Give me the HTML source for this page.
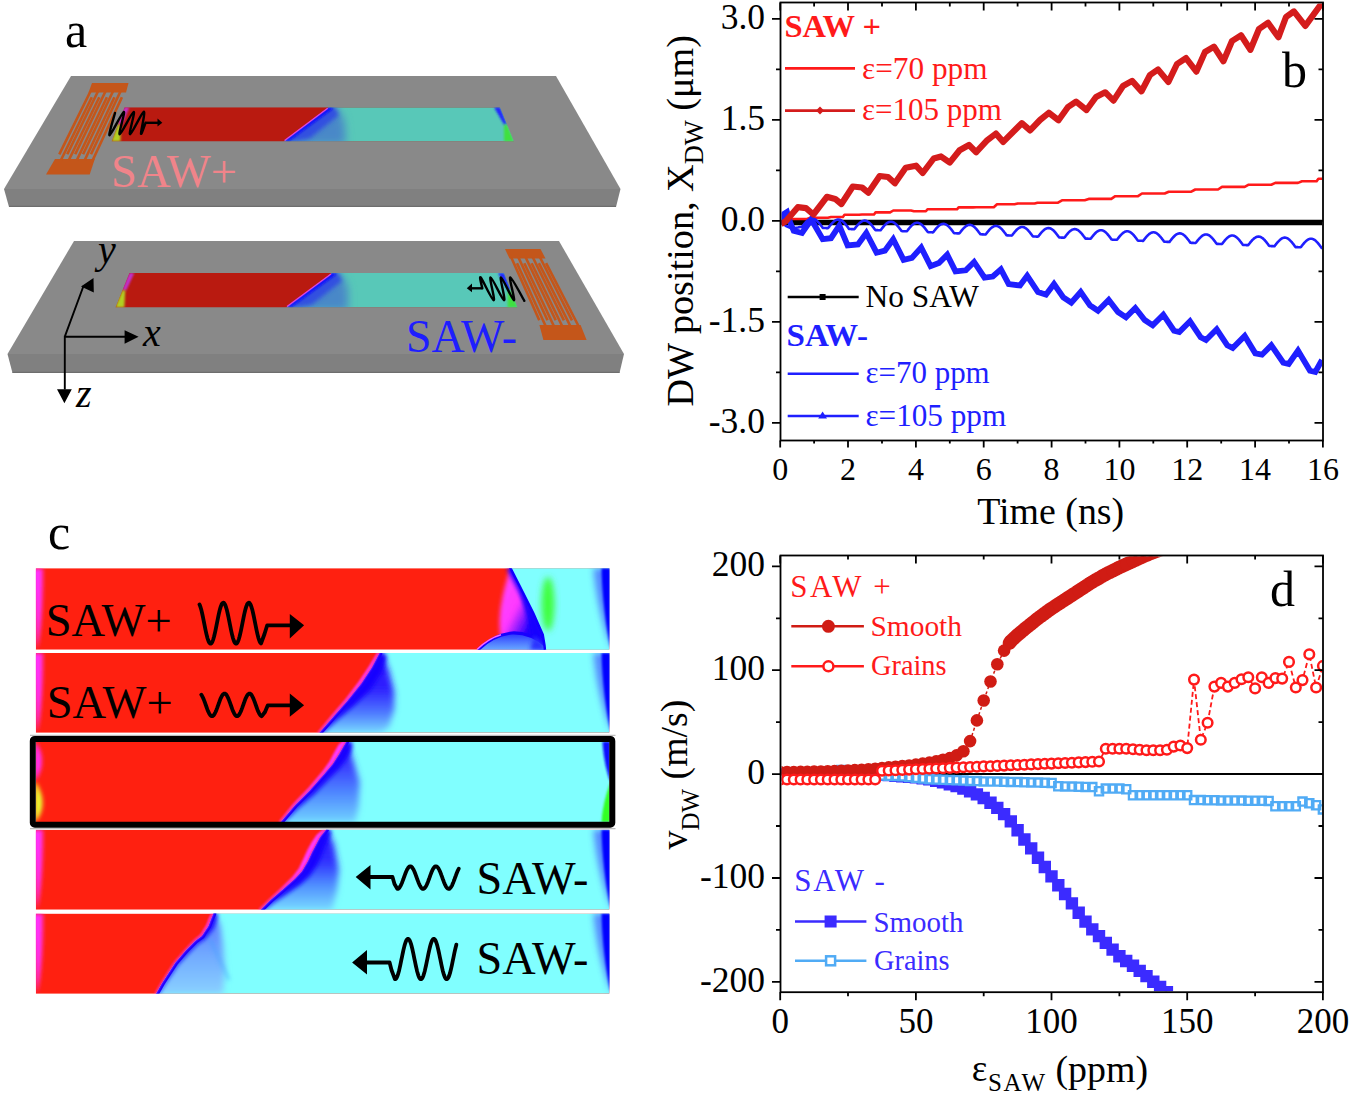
<!DOCTYPE html><html><head><meta charset="utf-8"><style>html,body{margin:0;padding:0;background:#fff;overflow:hidden}svg{display:block}text{font-family:"Liberation Serif", serif}</style></head><body>
<svg width="1350" height="1094" viewBox="0 0 1350 1094">
<rect width="1350" height="1094" fill="#fff"/>
<defs><filter id="bl2" x="-50%" y="-50%" width="200%" height="200%"><feGaussianBlur stdDeviation="2"/></filter><filter id="bl4" x="-50%" y="-50%" width="200%" height="200%"><feGaussianBlur stdDeviation="4"/></filter><filter id="bl6" x="-50%" y="-50%" width="200%" height="200%"><feGaussianBlur stdDeviation="6"/></filter><filter id="bl1" x="-50%" y="-50%" width="200%" height="200%"><feGaussianBlur stdDeviation="1"/></filter><filter id="bl3" x="-50%" y="-50%" width="200%" height="200%"><feGaussianBlur stdDeviation="3"/></filter></defs>
<clipPath id="cs0"><rect x="35.8" y="568.2" width="573.7" height="81.5"/></clipPath>
<clipPath id="cs1"><rect x="35.8" y="653" width="573.7" height="79.8"/></clipPath>
<clipPath id="cs2"><rect x="35.8" y="741.6" width="573.7" height="80.4"/></clipPath>
<clipPath id="cs3"><rect x="35.8" y="829.7" width="573.7" height="80"/></clipPath>
<clipPath id="cs4"><rect x="35.8" y="913.6" width="573.7" height="80.2"/></clipPath>
<g clip-path="url(#cs0)"><rect x="35.8" y="568.2" width="573.7" height="81.5" fill="#ff2010"/><path d="M510 567.2 L520 586.7 L533.3 613.3 L542.7 634.7 L544.5 645.3 L545 650.7 L609.5 650.7 L609.5 567.2 Z" fill="#80ffff"/><ellipse cx="548" cy="604" rx="6.5" ry="27" fill="#40ff40" filter="url(#bl3)"/><clipPath id="ct1"><path d="M510 567.2 L520 586.7 L533.3 613.3 L542.7 634.7 L544.5 645.3 L545 650.7 L470 650.7 L470 567.2 Z"/></clipPath><linearGradient id="gt1" gradientUnits="userSpaceOnUse" x1="505" y1="598" x2="536" y2="614"><stop offset="0" stop-color="#ff40ff"/><stop offset="0.4" stop-color="#ff38ff"/><stop offset="0.75" stop-color="#8018ff"/><stop offset="1" stop-color="#2000ff"/></linearGradient><linearGradient id="gb1" gradientUnits="userSpaceOnUse" x1="0" y1="633" x2="0" y2="649.7"><stop offset="0" stop-color="#2a30ff"/><stop offset="0.5" stop-color="#4a70ff"/><stop offset="1" stop-color="#68a8ff"/></linearGradient><g clip-path="url(#ct1)"><path d="M511 566 C507 578 503 592 501 605 C499 618 499 630 501 640 L548 652 L548 566 Z" fill="url(#gt1)" filter="url(#bl2)"/><path d="M510 567.2 L520 586.7 L533.3 613.3 L542.7 634.7 L544.5 645.3 L545 650.7" fill="none" stroke="#2000ff" stroke-width="7" filter="url(#bl2)"/><path d="M520 586.7 L533.3 613.3 L542.7 634.7 L544.5 645.3 L545 652 L532 640 L528 620 Z" fill="#1800ff" filter="url(#bl2)"/><path d="M476 650.7 C488 640 498 634.5 512 633 C524 632.5 536 637 546 646 L546 650.7 Z" fill="url(#gb1)"/><path d="M478 649.8 C488 640 498 634.5 512 633 C524 632.5 536 637 546 646" fill="none" stroke="#1800ff" stroke-width="3.2"/><path d="M534 636 C540 640 544 644 546 650 L530 650 Z" fill="#2a30ff" filter="url(#bl2)"/></g><path d="M477 649.5 C486 641 493 637 501 634.8" fill="none" stroke="#ff60ff" stroke-width="1.5"/><path d="M510 567.2 L520 586.7 L533.3 613.3 L542.7 634.7 L544.5 645.3 L545 650.7" fill="none" stroke="#1000ff" stroke-width="2.5"/><path d="M611.5 568.2 L593.5 568.2 C596.5 604.9 605.5 633.4 611.5 649.7 Z" fill="#4a6aff" filter="url(#bl3)" opacity="0.8"/><path d="M610.5 568.2 L601.5 568.2 C602.5 604.9 607.5 633.4 610.5 649.7 Z" fill="#0000ff" filter="url(#bl1)"/><path d="M32.8 568.2 L42.8 568.2 C42.8 605 40.8 635 36.8 649.7 Z" fill="#ff30ff" filter="url(#bl2)"/></g>
<g clip-path="url(#cs1)"><rect x="35.8" y="653" width="573.7" height="79.8" fill="#ff2010"/><clipPath id="cr1"><polygon points="318.6,732.8 318.6,733.5 333.4,716.4 347.3,700.8 361.2,683.4 371.6,667.8 379.4,653 380,652 609.5,653 609.5,732.8"/></clipPath><polygon points="318.6,732.8 318.6,733.5 333.4,716.4 347.3,700.8 361.2,683.4 371.6,667.8 379.4,653 380,652 609.5,653 609.5,732.8" fill="#80ffff"/><g clip-path="url(#cr1)"><linearGradient id="gm1" gradientUnits="userSpaceOnUse" x1="0" y1="653" x2="0" y2="732.8"><stop offset="0" stop-color="#2a10ff"/><stop offset="0.45" stop-color="#2f20ff"/><stop offset="0.75" stop-color="#4e78ff"/><stop offset="1" stop-color="#78d8ff"/></linearGradient><polygon points="318.6,733.5 333.4,716.4 347.3,700.8 361.2,683.4 371.6,667.8 379.4,653 380,652 382,652 389,671.3 394.2,692.1 394.2,709.5 389,726.9 380,733.5" fill="url(#gm1)" filter="url(#bl3)"/><polygon points="318.6,733.5 333.4,716.4 347.3,700.8 361.2,683.4 371.6,667.8 379.4,653 380,652 384.3,654.6 386.5,656.8 381,673.5 370.1,689.9 353.4,706 337.2,719.7 320.5,735.1" fill="#1800ff" filter="url(#bl2)"/><polyline points="319.7,734.5 334.5,717.4 348.4,701.8 362.4,684.3 372.9,668.6 380.7,653.7 381.3,652.8" fill="none" stroke="#1800ff" stroke-width="3"/></g><polygon points="318.6,733.5 333.4,716.4 347.3,700.8 361.2,683.4 371.6,667.8 379.4,653 380,652 379.1,651.5 377.6,652.1 369,666.3 358.8,681.6 345.4,699.2 331.9,715.1 317.5,732.5" fill="#ff38ff" filter="url(#bl1)"/><path d="M611.5 653 L593.5 653 C596.5 688.9 605.5 716.8 611.5 732.8 Z" fill="#4a6aff" filter="url(#bl3)" opacity="0.8"/><path d="M610.5 653 L601.5 653 C602.5 688.9 607.5 716.8 610.5 732.8 Z" fill="#0000ff" filter="url(#bl1)"/><path d="M32.8 653 L42.8 653 C42.8 688.9 40.8 716.8 36.8 732.8 Z" fill="#ff30ff" filter="url(#bl2)"/></g>
<g clip-path="url(#cs2)"><rect x="35.8" y="741.6" width="573.7" height="80.4" fill="#ff2010"/><clipPath id="cr2"><polygon points="280.2,822 280.2,822.5 295,805 310,790 325,773 332.6,764 339,754 343,747 346.1,741.7 346.5,740.5 609.5,741.6 609.5,822"/></clipPath><polygon points="280.2,822 280.2,822.5 295,805 310,790 325,773 332.6,764 339,754 343,747 346.1,741.7 346.5,740.5 609.5,741.6 609.5,822" fill="#80ffff"/><g clip-path="url(#cr2)"><linearGradient id="gm2" gradientUnits="userSpaceOnUse" x1="0" y1="741.6" x2="0" y2="822"><stop offset="0" stop-color="#3020ff"/><stop offset="0.3" stop-color="#3a3cff"/><stop offset="0.6" stop-color="#4c80ff"/><stop offset="1" stop-color="#70d0ff"/></linearGradient><polygon points="280.2,822.5 295,805 310,790 325,773 332.6,764 339,754 343,747 346.1,741.7 346.5,740.5 347,740.5 353.3,761 359.6,781.7 358.5,807.6 355,822.5" fill="url(#gm2)" filter="url(#bl3)"/><polygon points="280.2,822.5 295,805 310,790 325,773 332.6,764 339,754 343,747 346.1,741.7 346.5,740.5 351.2,742.1 352.3,745 350.8,751.5 346.7,758.7 339,768.7 330.3,777.6 314.4,794.1 298.3,808 282.1,824.1" fill="#1800ff" filter="url(#bl2)"/><polyline points="281.3,823.5 296.1,806 311.1,791 326.1,774 333.8,764.9 340.3,754.8 344.3,747.7 347.4,742.4 347.9,741" fill="none" stroke="#1800ff" stroke-width="3"/></g><polygon points="280.2,822.5 295,805 310,790 325,773 332.6,764 339,754 343,747 346.1,741.7 346.5,740.5 345.6,740.2 343.5,740.3 338.7,744.5 334.7,751.4 329.4,761.6 322.7,771 308.2,788.3 293.5,803.6 279.1,821.5" fill="#ff38ff" filter="url(#bl1)"/><path d="M610.5 741.6 L602.5 741.6 C603.5 760 607.5 775 610.5 782 Z" fill="#1010ff" filter="url(#bl1)"/><path d="M610.5 822 L601.5 822 C602.5 805 607.5 790 610.5 782 Z" fill="#30ff20" filter="url(#bl1)"/><path d="M34.8 741.6 C44 752 44 770 34.8 781 Z" fill="#ff30ff" filter="url(#bl2)"/><path d="M34.8 781 C45 795 45 812 34.8 822 Z" fill="#e8ff30" filter="url(#bl2)"/></g>
<g clip-path="url(#cs3)"><rect x="35.8" y="829.7" width="573.7" height="80" fill="#ff2010"/><clipPath id="cr3"><polygon points="259.8,909.7 259.8,910.5 270.4,900 282,890 294.8,878.8 302,871 307.9,860.9 312,852 316,844.6 320,837 325.8,829.7 326.5,828.5 609.5,829.7 609.5,909.7"/></clipPath><polygon points="259.8,909.7 259.8,910.5 270.4,900 282,890 294.8,878.8 302,871 307.9,860.9 312,852 316,844.6 320,837 325.8,829.7 326.5,828.5 609.5,829.7 609.5,909.7" fill="#80ffff"/><g clip-path="url(#cr3)"><linearGradient id="gm3" gradientUnits="userSpaceOnUse" x1="0" y1="829.7" x2="0" y2="909.7"><stop offset="0" stop-color="#2a10ff"/><stop offset="0.4" stop-color="#3030ff"/><stop offset="0.7" stop-color="#5090ff"/><stop offset="1" stop-color="#78d8ff"/></linearGradient><polygon points="259.8,910.5 270.4,900 282,890 294.8,878.8 302,871 307.9,860.9 312,852 316,844.6 320,837 325.8,829.7 326.5,828.5 327,828.5 334,845 338.8,870 337,890 332,910.5" fill="url(#gm3)" filter="url(#bl3)"/><polygon points="259.8,910.5 270.4,900 282,890 294.8,878.8 302,871 307.9,860.9 312,852 316,844.6 320,837 325.8,829.7 326.5,828.5 330.8,831 330.6,833.3 326.7,841.4 323.9,848.8 321,856.5 316.7,865.6 309.3,876.3 300.3,884.6 285.9,894.5 273.1,902.9 261.6,912.3" fill="#1800ff" filter="url(#bl2)"/><polyline points="260.9,911.6 271.4,901.1 283,891.1 295.8,879.9 303.2,871.9 309.2,861.6 313.3,852.7 317.3,845.3 321.3,837.8 327,830.6 327.8,829.3" fill="none" stroke="#1800ff" stroke-width="3"/></g><polygon points="259.8,910.5 270.4,900 282,890 294.8,878.8 302,871 307.9,860.9 312,852 316,844.6 320,837 325.8,829.7 326.5,828.5 325.6,828 324.2,828.5 316.7,834.8 311.6,842.2 307.5,849.8 303.5,858.6 298.8,868.6 292.7,876.6 280.7,888.5 269.4,898.9 258.7,909.4" fill="#ff38ff" filter="url(#bl1)"/><path d="M611.5 829.7 L593.5 829.7 C596.5 865.7 605.5 893.7 611.5 909.7 Z" fill="#4a6aff" filter="url(#bl3)" opacity="0.8"/><path d="M610.5 829.7 L601.5 829.7 C602.5 865.7 607.5 893.7 610.5 909.7 Z" fill="#0000ff" filter="url(#bl1)"/><path d="M32.8 829.7 L42.8 829.7 C42.8 865.7 40.8 893.7 36.8 909.7 Z" fill="#ff30ff" filter="url(#bl2)"/></g>
<g clip-path="url(#cs4)"><rect x="35.8" y="913.6" width="573.7" height="80.2" fill="#ff2010"/><clipPath id="cr4"><polygon points="155.5,993.8 155.5,994.5 162,983 169.3,971.7 175,963 185.6,950.5 195,941 201.9,935.8 205,931 208.4,926 211,919 213.3,913.6 213.6,912.5 609.5,913.6 609.5,993.8"/></clipPath><polygon points="155.5,993.8 155.5,994.5 162,983 169.3,971.7 175,963 185.6,950.5 195,941 201.9,935.8 205,931 208.4,926 211,919 213.3,913.6 213.6,912.5 609.5,913.6 609.5,993.8" fill="#80ffff"/><g clip-path="url(#cr4)"><linearGradient id="gm4" gradientUnits="userSpaceOnUse" x1="0" y1="913.6" x2="0" y2="993.8"><stop offset="0" stop-color="#5a70ff"/><stop offset="0.5" stop-color="#70a8ff"/><stop offset="1" stop-color="#8ad0ff"/></linearGradient><polygon points="155.5,994.5 162,983 169.3,971.7 175,963 185.6,950.5 195,941 201.9,935.8 205,931 208.4,926 211,919 213.3,913.6 213.6,912.5 214,912.5 220,925 223,945 225,970 223,994.5" fill="url(#gm4)" filter="url(#bl3)"/><polygon points="155.5,994.5 162,983 169.3,971.7 175,963 185.6,950.5 195,941 201.9,935.8 205,931 208.4,926 211,919 213.3,913.6 213.6,912.5 217,913.4 217.5,915.3 216.1,921 213.3,928.5 209.2,933.8 205.1,939 197.7,944 188.6,953.2 177.8,965.1 172.2,973.6 164.6,984.6 157.7,995.7" fill="#1800ff" filter="url(#bl2)"/><polyline points="156.8,995.2 163.3,983.8 170.6,972.5 176.2,963.9 186.7,951.5 196,942.1 203,936.9 206.3,931.8 209.7,926.7 212.4,919.6 214.7,914.2 215,912.9" fill="none" stroke="#1800ff" stroke-width="3"/></g><polygon points="155.5,994.5 162,983 169.3,971.7 175,963 185.6,950.5 195,941 201.9,935.8 205,931 208.4,926 211,919 213.3,913.6 213.6,912.5 212.4,912.2 211.6,912.9 209,918.2 206.4,925 203.3,929.9 200.6,934.5 194,939.9 184.7,949.7 174,962.3 168.3,971 161,982.4 154.5,993.9" fill="#ff38ff" filter="url(#bl1)"/><path d="M210 939 L229 980" stroke="#40a0ff" stroke-width="3" filter="url(#bl2)" opacity="0.5"/><path d="M611.5 913.6 L593.5 913.6 C596.5 949.7 605.5 977.8 611.5 993.8 Z" fill="#4a6aff" filter="url(#bl3)" opacity="0.8"/><path d="M610.5 913.6 L601.5 913.6 C602.5 949.7 607.5 977.8 610.5 993.8 Z" fill="#0000ff" filter="url(#bl1)"/><path d="M32.8 913.6 L42.8 913.6 C42.8 949.7 40.8 977.8 36.8 993.8 Z" fill="#ff30ff" filter="url(#bl2)"/></g>
<path d="M30 735.4H615.5M30 828.6H615.5" stroke="#bdbdbd" stroke-width="1.2"/>
<rect x="32.8" y="738.9" width="579.5" height="85.9" rx="2" fill="none" stroke="#000" stroke-width="6"/>
<text x="48" y="549" font-size="50">c</text>
<text x="45.7" y="635.7" font-size="47" textLength="126" lengthAdjust="spacingAndGlyphs">SAW+</text>
<text x="46.7" y="717.5" font-size="47" textLength="126" lengthAdjust="spacingAndGlyphs">SAW+</text>
<text x="476.5" y="894" font-size="47" textLength="112" lengthAdjust="spacingAndGlyphs">SAW-</text>
<text x="476.5" y="974" font-size="47" textLength="112" lengthAdjust="spacingAndGlyphs">SAW-</text>
<polyline points="199.5,604.5 200,605.6 200.5,607.1 201,608.7 201.5,610.6 202,612.7 202.5,615 203,617.3 203.5,619.8 204,622.3 204.5,624.8 205,627.3 205.5,629.8 206,632.1 206.5,634.3 207,636.3 207.5,638.2 208,639.8 208.5,641.1 209,642.2 209.5,643 210,643.5 210.5,643.7 211,643.6 211.5,643.1 212,642.4 212.5,641.4 213,640.1 213.5,638.5 214,636.7 214.5,634.7 215,632.6 215.5,630.3 216,627.8 216.5,625.3 217,622.8 217.5,620.3 218,617.8 218.5,615.4 219,613.2 219.5,611 220,609.1 220.5,607.4 221,605.9 221.5,604.7 222,603.7 222.5,603.1 223,602.8 223.5,602.7 224,603 224.5,603.6 225,604.5 225.5,605.6 226,607.1 226.5,608.7 227,610.6 227.5,612.7 228,615 228.5,617.3 229,619.8 229.5,622.3 230,624.8 230.5,627.3 231,629.8 231.5,632.1 232,634.3 232.5,636.3 233,638.2 233.5,639.8 234,641.1 234.5,642.2 235,643 235.5,643.5 236,643.7 236.5,643.6 237,643.1 237.5,642.4 238,641.4 238.5,640.1 239,638.5 239.5,636.7 240,634.7 240.5,632.6 241,630.3 241.5,627.8 242,625.3 242.5,622.8 243,620.3 243.5,617.8 244,615.4 244.5,613.2 245,611 245.5,609.1 246,607.4 246.5,605.9 247,604.7 247.5,603.7 248,603.1 248.5,602.8 249,602.7 249.5,603 250,603.6 250.5,604.5 251,605.6 251.5,607.1 252,608.7 252.5,610.6 253,612.7 253.5,615 254,617.3 254.5,619.8 255,622.3 255.5,624.8 256,627.3 256.5,629.8 257,632.1 257.5,634.3 258,636.3 258.5,638.2 259,639.8 259.5,641.1 260,642.2 260.5,643 261,643.5 264.5,634 267.2,625.3 290,625.3" fill="none" stroke="#000" stroke-width="3.8" stroke-linejoin="round" stroke-linecap="round"/>
<polyline points="201.3,694.7 201.8,695.4 202.3,696.3 202.8,697.3 203.3,698.4 203.8,699.6 204.3,700.9 204.8,702.2 205.3,703.6 205.8,705 206.3,706.5 206.8,707.8 207.3,709.2 207.8,710.5 208.3,711.7 208.8,712.7 209.3,713.7 209.8,714.5 210.3,715.2 210.8,715.7 211.3,716 211.8,716.2 212.3,716.2 212.8,716 213.3,715.6 213.8,715.1 214.3,714.4 214.8,713.5 215.3,712.5 215.8,711.4 216.3,710.2 216.8,708.9 217.3,707.6 217.8,706.2 218.3,704.8 218.8,703.3 219.3,702 219.8,700.6 220.3,699.3 220.8,698.1 221.3,697.1 221.8,696.1 222.3,695.3 222.8,694.6 223.3,694.1 223.8,693.8 224.3,693.6 224.8,693.6 225.3,693.8 225.8,694.2 226.3,694.7 226.8,695.4 227.3,696.3 227.8,697.3 228.3,698.4 228.8,699.6 229.3,700.9 229.8,702.2 230.3,703.6 230.8,705 231.3,706.5 231.8,707.8 232.3,709.2 232.8,710.5 233.3,711.7 233.8,712.7 234.3,713.7 234.8,714.5 235.3,715.2 235.8,715.7 236.3,716 236.8,716.2 237.3,716.2 237.8,716 238.3,715.6 238.8,715.1 239.3,714.4 239.8,713.5 240.3,712.5 240.8,711.4 241.3,710.2 241.8,708.9 242.3,707.6 242.8,706.2 243.3,704.8 243.8,703.3 244.3,702 244.8,700.6 245.3,699.3 245.8,698.1 246.3,697.1 246.8,696.1 247.3,695.3 247.8,694.6 248.3,694.1 248.8,693.8 249.3,693.6 249.8,693.6 250.3,693.8 250.8,694.2 251.3,694.7 251.8,695.4 252.3,696.3 252.8,697.3 253.3,698.4 253.8,699.6 254.3,700.9 254.8,702.2 255.3,703.6 255.8,705 256.3,706.5 256.8,707.8 257.3,709.2 257.8,710.5 258.3,711.7 258.8,712.7 259.3,713.7 259.8,714.5 260.3,715.2 260.8,715.7 261.3,716 261.8,716.2 265,712 267.8,705.3 290,705.3" fill="none" stroke="#000" stroke-width="3.8" stroke-linejoin="round" stroke-linecap="round"/>
<polyline points="370,877 392.5,877 394.5,884 397.3,888.9 397.8,888.9 398.3,888.7 398.8,888.3 399.3,887.8 399.8,887.1 400.3,886.3 400.8,885.4 401.3,884.3 401.8,883.2 402.3,881.9 402.8,880.6 403.3,879.3 403.8,877.9 404.3,876.5 404.8,875.1 405.3,873.8 405.8,872.5 406.3,871.3 406.8,870.2 407.3,869.2 407.8,868.4 408.3,867.6 408.8,867.1 409.3,866.6 409.8,866.4 410.3,866.3 410.8,866.4 411.3,866.6 411.8,867.1 412.3,867.6 412.8,868.4 413.3,869.2 413.8,870.2 414.3,871.3 414.8,872.5 415.3,873.8 415.8,875.1 416.3,876.5 416.8,877.9 417.3,879.3 417.8,880.6 418.3,881.9 418.8,883.2 419.3,884.3 419.8,885.4 420.3,886.3 420.8,887.1 421.3,887.8 421.8,888.3 422.3,888.7 422.8,888.9 423.3,888.9 423.8,888.7 424.3,888.4 424.8,887.9 425.3,887.3 425.8,886.5 426.3,885.6 426.8,884.6 427.3,883.4 427.8,882.2 428.3,880.9 428.8,879.5 429.3,878.2 429.8,876.8 430.3,875.4 430.8,874.1 431.3,872.8 431.8,871.6 432.3,870.4 432.8,869.4 433.3,868.5 433.8,867.8 434.3,867.2 434.8,866.7 435.3,866.4 435.8,866.3 436.3,866.4 436.8,866.6 437.3,867 437.8,867.5 438.3,868.2 438.8,869 439.3,870 439.8,871.1 440.3,872.3 440.8,873.5 441.3,874.9 441.8,876.2 442.3,877.6 442.8,879 443.3,880.3 443.8,881.7 444.3,882.9 444.8,884.1 445.3,885.2 445.8,886.2 446.3,887 446.8,887.7 447.3,888.2 447.8,888.6 448.3,888.8 448.8,888.9 449.3,888.8 449.8,888.5 450.3,888 450.8,887.4 451.3,886.7 451.8,885.8 452.3,884.8 452.8,883.6 453.3,882.4 453.8,881.1 454.3,879.8 454.8,878.4 455.3,877 455.8,875.7 456.3,874.3 456.8,873 457.3,871.8 457.8,870.6 458.3,869.6 458.8,868.7" fill="none" stroke="#000" stroke-width="3.8" stroke-linejoin="round" stroke-linecap="round"/>
<polyline points="366,962.5 389.6,962.5 391.5,970 394.9,979.2 395.4,979.1 395.9,978.8 396.4,978.2 396.9,977.3 397.4,976.1 397.9,974.7 398.4,973 398.9,971.2 399.4,969.1 399.9,966.9 400.4,964.6 400.9,962.2 401.4,959.7 401.9,957.3 402.4,954.8 402.9,952.5 403.4,950.2 403.9,948.1 404.4,946.1 404.9,944.3 405.4,942.7 405.9,941.4 406.4,940.3 406.9,939.5 407.4,939 407.9,938.8 408.4,938.9 408.9,939.3 409.4,940 409.9,940.9 410.4,942.2 410.9,943.6 411.4,945.3 411.9,947.2 412.4,949.3 412.9,951.6 413.4,953.9 413.9,956.3 414.4,958.8 414.9,961.2 415.4,963.6 415.9,966 416.4,968.2 416.9,970.4 417.4,972.3 417.9,974 418.4,975.6 418.9,976.9 419.4,977.9 419.9,978.6 420.4,979.1 420.9,979.2 421.4,979.1 421.9,978.6 422.4,977.9 422.9,976.9 423.4,975.6 423.9,974 424.4,972.3 424.9,970.4 425.4,968.2 425.9,966 426.4,963.6 426.9,961.2 427.4,958.8 427.9,956.3 428.4,953.9 428.9,951.6 429.4,949.3 429.9,947.2 430.4,945.3 430.9,943.6 431.4,942.2 431.9,940.9 432.4,940 432.9,939.3 433.4,938.9 433.9,938.8 434.4,939 434.9,939.5 435.4,940.3 435.9,941.4 436.4,942.7 436.9,944.3 437.4,946.1 437.9,948.1 438.4,950.2 438.9,952.5 439.4,954.8 439.9,957.3 440.4,959.7 440.9,962.2 441.4,964.6 441.9,966.9 442.4,969.1 442.9,971.2 443.4,973 443.9,974.7 444.4,976.1 444.9,977.3 445.4,978.2 445.9,978.8 446.4,979.1 446.9,979.2 447.4,978.9 447.9,978.3 448.4,977.5 448.9,976.4 449.4,975 449.9,973.4 450.4,971.5 450.9,969.5 451.4,967.4 451.9,965.1 452.4,962.7 452.9,960.2 453.4,957.8 453.9,955.3 454.4,952.9 454.9,950.6 455.4,948.5 455.9,946.5 456.4,944.6" fill="none" stroke="#000" stroke-width="3.8" stroke-linejoin="round" stroke-linecap="round"/>
<path d="M289.8 614L304.1 625.3L289.8 638.4Z M289.8 693.6L304.1 705.3L289.8 716.8Z M370.5 865.1L355.7 877L370.5 889.5Z M367 950L352.1 962.5L367 974.4Z" fill="#000"/>
<text x="65" y="47" font-size="50">a</text>
<polygon points="71,76 556,76 620.5,189 4,189" fill="#898989"/><polygon points="4,189 620.5,189 616,207 9,207" fill="#808080"/><path d="M9 206.4L616 206.4" stroke="#6e6e6e" stroke-width="1.2"/>
<polygon points="74,241 559,241 624,354 7.5,354" fill="#898989"/><polygon points="7.5,354 624,354 619.5,373 12.5,373" fill="#808080"/><path d="M12.5 372.4L619.5 372.4" stroke="#6e6e6e" stroke-width="1.2"/>
<clipPath id="as1"><polygon points="124.4,107.2 500,107.2 514,141.6 111.4,141.6"/></clipPath><g clip-path="url(#as1)"><polygon points="124.4,107.2 500,107.2 514,141.6 111.4,141.6" fill="#b91a10"/><polygon points="328.7,107.2 520,107.2 534,141.6 283.6,141.6" fill="#58c8b8"/><clipPath id="as1r"><polygon points="328.7,107.2 520,107.2 534,141.6 283.6,141.6"/></clipPath><g clip-path="url(#as1r)"><polygon points="328.7,104.2 334.7,104.2 342.7,117.2 344.7,124.4 345.6,144.6 283.6,144.6" fill="#4a88c8" filter="url(#bl4)"/><polygon points="328.7,107.2 334.7,107.2 338.7,115.2 309.6,138.6 293.6,141.6 283.6,141.6" fill="#3050e0" filter="url(#bl2)"/><polygon points="328.7,107.2 333.7,108.2 288.6,141.6 283.6,141.6" fill="#1010ff" filter="url(#bl1)"/></g><path d="M327.7 108.2L284.6 140.6" stroke="#e040e0" stroke-width="1.3"/><polygon points="124.4,107.2 129.4,107.2 121.9,124.4 117.9,124.4" fill="#c030d0" filter="url(#bl1)"/><polygon points="117.9,124.4 120.9,124.4 120.4,141.6 111.4,141.6" fill="#b0d020" filter="url(#bl1)"/><polygon points="494,107.2 500,107.2 507,124.4 504,124.4" fill="#2020ff" filter="url(#bl1)"/><polygon points="504,124.4 507,124.4 514,141.6 504,141.6" fill="#40e040" filter="url(#bl1)"/></g>
<clipPath id="as2"><polygon points="129.3,273.1 504,273.1 517.5,307.4 115.3,307.4"/></clipPath><g clip-path="url(#as2)"><polygon points="129.3,273.1 504,273.1 517.5,307.4 115.3,307.4" fill="#b91a10"/><polygon points="332,273.1 524,273.1 537.5,307.4 286,307.4" fill="#58c8b8"/><clipPath id="as2r"><polygon points="332,273.1 524,273.1 537.5,307.4 286,307.4"/></clipPath><g clip-path="url(#as2r)"><polygon points="332,270.1 338,270.1 346,283.1 348,290.2 348,310.4 286,310.4" fill="#4a88c8" filter="url(#bl4)"/><polygon points="332,273.1 338,273.1 342,281.1 312,304.4 296,307.4 286,307.4" fill="#3050e0" filter="url(#bl2)"/><polygon points="332,273.1 337,274.1 291,307.4 286,307.4" fill="#1010ff" filter="url(#bl1)"/></g><path d="M331 274.1L287 306.4" stroke="#e040e0" stroke-width="1.3"/><polygon points="129.3,273.1 134.3,273.1 126.3,290.2 122.3,290.2" fill="#c030d0" filter="url(#bl1)"/><polygon points="122.3,290.2 125.3,290.2 124.3,307.4 115.3,307.4" fill="#b0d020" filter="url(#bl1)"/><polygon points="498,273.1 504,273.1 510.8,290.2 507.8,290.2" fill="#2020ff" filter="url(#bl1)"/><polygon points="507.8,290.2 510.8,290.2 517.5,307.4 507.5,307.4" fill="#40e040" filter="url(#bl1)"/></g>
<polygon points="92,83 128.5,83 126,92.5 88.5,92.5" fill="#c4561a"/><polygon points="55,159 94.8,159 89.7,174.5 46,174.5" fill="#c4561a"/><path d="M90.4 91.5L59.3 154.3M91.8 97.2L61 160M97.9 91.5L67.3 154.3M99.3 97.2L68.9 160M105.4 91.5L75.2 154.3M106.9 97.2L76.9 160M112.9 91.5L83.1 154.3M114.4 97.2L84.8 160M120.4 91.5L91 154.3M121.9 97.2L92.8 160" stroke="#c4561a" stroke-width="2.6" fill="none"/>
<polygon points="505,249 540.5,249 545.5,258.5 509.5,258.5" fill="#c4561a"/><polygon points="539.4,325 580.6,325 586.6,340 543.4,340" fill="#c4561a"/><path d="M511.3 257.5L539.3 320.3M517 263.2L545.6 326M518.5 257.5L547.5 320.3M524.3 263.2L553.8 326M525.7 257.5L555.7 320.3M531.6 263.2L562.1 326M532.9 257.5L563.9 320.3M538.9 263.2L570.3 326M540.1 257.5L572 320.3M546.1 263.2L578.5 326" stroke="#c4561a" stroke-width="2.6" fill="none"/>
<path d="M115 113C114.1 116.7 108.1 135.5 109.6 135.3C111.1 135.1 122.1 112.1 123.8 111.9C125.5 111.7 118.1 134.2 119.7 134.2C121.3 134.2 132 111.9 133.7 111.9C135.4 111.9 128.4 134.2 130.1 134.2C131.8 134.2 142 111.8 143.8 111.7C145.6 111.6 140.7 131.8 141 133.7C141.3 135.5 144.8 124.6 145.6 122.8" fill="none" stroke="#000" stroke-width="2.4" stroke-linejoin="round" stroke-linecap="round"/>
<path d="M145.6 122.8H158" stroke="#000" stroke-width="2.4"/><path d="M157.5 118.6L162.3 122.8L157.5 126.6Z" fill="#000"/>
<path d="M524.3 300.8C522 296.9 512 277.5 510.3 277.4C508.6 277.3 515.4 300.3 513.9 300.3C512.4 300.3 502.6 277.4 501 277.4C499.4 277.4 505.8 300.3 504.1 300.3C502.4 300.3 492.3 277.4 490.6 277.4C488.9 277.4 495.4 300.3 493.7 300.3C492 300.3 482.6 279.4 480.7 277.4C478.8 275.4 482 286.5 482.3 288.3" fill="none" stroke="#000" stroke-width="2.4" stroke-linejoin="round" stroke-linecap="round"/>
<path d="M482.3 288.3H471" stroke="#000" stroke-width="2.4"/><path d="M472 283.4L466.8 288.3L472 292.2Z" fill="#000"/>
<text x="111" y="187" font-size="46.5" fill="#f0848a" textLength="126" lengthAdjust="spacingAndGlyphs">SAW+</text>
<text x="406" y="352" font-size="46.5" fill="#1e1eff" textLength="111" lengthAdjust="spacingAndGlyphs">SAW-</text>
<path d="M64.8 389.5V336.7H125M64.8 336.7L83.5 286" stroke="#000" stroke-width="1.9" fill="none"/>
<path d="M124.6 330.2L138.6 336.7L124.6 343.8Z M57 389.2L64.4 403.2L71.8 389.2Z M93.5 278.1L81 286.4L93.8 292.6Z" fill="#000"/>
<text x="98" y="263" font-size="40" font-style="italic">y</text>
<text x="143" y="345.5" font-size="40" font-style="italic">x</text>
<text x="76" y="407" font-size="40" font-style="italic">z</text>
<defs><clipPath id="cb"><rect x="781.5" y="3.5" width="540.5" height="436"/></clipPath></defs>
<g clip-path="url(#cb)" fill="none" stroke-linejoin="round">
<path d="M781 222.6H1323" stroke="#000" stroke-width="5.5"/>
<polyline points="781,221.5 789.1,221.5 791.3,219 795.7,219 807.1,219 810.3,217.8 816.5,217.8 827.9,217.8 831,217 837.2,217 842.9,217 844.5,214.8 847.6,214.8 859,214.8 862.1,214.5 868.3,214.5 874,214.5 875.6,212.4 878.7,212.4 890.1,212.4 893.3,210.5 899.5,210.5 910.9,210.5 914,211.3 920.2,211.3 925.9,211.3 927.5,209.3 930.6,209.3 942,209.3 945.1,209.3 951.3,209.3 957,209.3 958.6,207.4 961.7,207.4 973.1,207.4 976.2,207.2 982.4,207.2 993.8,207.2 997,204.3 1003.2,204.3 1014.6,204.3 1017.7,203.5 1023.9,203.5 1034.6,203.5 1037.5,202.7 1043.3,202.7 1058,202.7 1062,200.3 1070,200.3 1084.7,200.3 1088.7,198.9 1096.7,198.9 1111.3,198.9 1115.3,196.2 1123.3,196.2 1138,196.2 1142,193.5 1150,193.5 1164.7,193.5 1168.7,191.7 1176.7,191.7 1191.3,191.7 1195.3,189.5 1203.3,189.5 1218,189.5 1222,186.9 1230,186.9 1244.7,186.9 1248.7,184.7 1256.7,184.7 1271.3,184.7 1275.3,182.9 1283.3,182.9 1298,182.9 1302,181.3 1310,181.3 1316.6,181.3 1318.4,178.7 1322,178.7" stroke="#ff1a1a" stroke-width="2.6"/>
<polyline points="781,222.5 786,226 792,228.5 798,227.5 800,227 800.5,227 801,227 801.5,227.1 802,226.8 802.5,226.2 803,225.5 803.5,224.9 804,224.3 804.5,223.6 805,223.1 805.5,222.5 806,222 806.5,221.4 807,221 807.5,220.5 808,220.1 808.5,219.8 809,219.4 809.5,219.2 810,218.9 810.5,218.8 811,218.6 811.5,218.5 812,218.5 812.5,218.5 813,218.6 813.5,218.7 814,218.9 814.5,219.1 815,219.3 815.5,219.6 816,220 816.5,220.4 817,220.8 817.5,221.3 818,221.8 818.5,222.4 819,222.9 819.5,223.5 820,224.1 820.5,224.8 821,225.5 821.5,226.1 822,226.8 822.5,227.5 823,227.9 823.5,228 824,228 824.5,228 825,228 825.5,228 826,228.1 826.5,228.1 827,228.1 827.5,228.1 828,228.1 828.5,227.6 829,226.9 829.5,226.3 830,225.6 830.5,225 831,224.4 831.5,223.8 832,223.3 832.5,222.8 833,222.3 833.5,221.8 834,221.4 834.5,221 835,220.7 835.5,220.4 836,220.1 836.5,219.9 837,219.7 837.5,219.6 838,219.6 838.5,219.6 839,219.6 839.5,219.7 840,219.8 840.5,220 841,220.3 841.5,220.5 842,220.9 842.5,221.2 843,221.7 843.5,222.1 844,222.6 844.5,223.1 845,223.7 845.5,224.3 846,224.9 846.5,225.5 847,226.2 847.5,226.8 848,227.5 848.5,228.2 849,228.9 849.5,229 850,229 850.5,229 851,229.1 851.5,229.1 852,229.1 852.5,229.1 853,229.1 853.5,229.2 854,229.2 854.5,229 855,228.3 855.5,227.7 856,227 856.5,226.4 857,225.8 857.5,225.2 858,224.6 858.5,224.1 859,223.6 859.5,223.1 860,222.7 860.5,222.3 861,221.9 861.5,221.6 862,221.3 862.5,221.1 863,220.9 863.5,220.7 864,220.7 864.5,220.6 865,220.6 865.5,220.7 866,220.8 866.5,221 867,221.2 867.5,221.4 868,221.8 868.5,222.1 869,222.5 869.5,222.9 870,223.4 870.5,223.9 871,224.5 871.5,225 872,225.6 872.5,226.2 873,226.9 873.5,227.6 874,228.2 874.5,228.9 875,229.6 875.5,230.1 876,230.1 876.5,230.1 877,230.1 877.5,230.1 878,230.2 878.5,230.2 879,230.2 879.5,230.2 880,230.2 880.5,230.3 881,229.7 881.5,229.1 882,228.4 882.5,227.8 883,227.2 883.5,226.6 884,226 884.5,225.4 885,224.9 885.5,224.4 886,224 886.5,223.5 887,223.1 887.5,222.8 888,222.5 888.5,222.2 889,222 889.5,221.9 890,221.8 890.5,221.7 891,221.7 891.5,221.7 892,221.8 892.5,221.9 893,222.1 893.5,222.4 894,222.7 894.5,223 895,223.4 895.5,223.8 896,224.2 896.5,224.7 897,225.2 897.5,225.8 898,226.4 898.5,227 899,227.6 899.5,228.3 900,228.9 900.5,229.6 901,230.3 901.5,231 902,231.1 902.5,231.2 903,231.2 903.5,231.2 904,231.2 904.5,231.2 905,231.3 905.5,231.3 906,231.3 906.5,231.3 907,231.1 907.5,230.5 908,229.8 908.5,229.2 909,228.6 909.5,227.9 910,227.4 910.5,226.8 911,226.2 911.5,225.7 912,225.3 912.5,224.8 913,224.4 913.5,224 914,223.7 914.5,223.4 915,223.2 915.5,223 916,222.9 916.5,222.8 917,222.7 917.5,222.8 918,222.8 918.5,222.9 919,223.1 919.5,223.3 920,223.6 920.5,223.9 921,224.2 921.5,224.6 922,225 922.5,225.5 923,226 923.5,226.6 924,227.1 924.5,227.7 925,228.3 925.5,229 926,229.7 926.5,230.3 927,231 927.5,231.7 928,232.2 928.5,232.2 929,232.2 929.5,232.2 930,232.3 930.5,232.3 931,232.3 931.5,232.3 932,232.3 932.5,232.4 933,232.4 933.5,231.9 934,231.2 934.5,230.6 935,229.9 935.5,229.3 936,228.7 936.5,228.1 937,227.6 937.5,227.1 938,226.6 938.5,226.1 939,225.7 939.5,225.3 940,224.9 940.5,224.6 941,224.4 941.5,224.2 942,224 942.5,223.9 943,223.8 943.5,223.8 944,223.8 944.5,223.9 945,224.1 945.5,224.3 946,224.5 946.5,224.8 947,225.1 947.5,225.5 948,225.9 948.5,226.3 949,226.8 949.5,227.3 950,227.9 950.5,228.5 951,229.1 951.5,229.7 952,230.4 952.5,231 953,231.7 953.5,232.4 954,233.1 954.5,233.3 955,233.3 955.5,233.3 956,233.3 956.5,233.3 957,233.4 957.5,233.4 958,233.4 958.5,233.4 959,233.4 959.5,233.3 960,232.6 960.5,232 961,231.3 961.5,230.7 962,230.1 962.5,229.5 963,228.9 963.5,228.4 964,227.9 964.5,227.4 965,227 965.5,226.5 966,226.2 966.5,225.9 967,225.6 967.5,225.3 968,225.1 968.5,225 969,224.9 969.5,224.9 970,224.9 970.5,224.9 971,225.1 971.5,225.2 972,225.4 972.5,225.7 973,226 973.5,226.3 974,226.7 974.5,227.1 975,227.6 975.5,228.1 976,228.7 976.5,229.2 977,229.8 977.5,230.4 978,231.1 978.5,231.8 979,232.4 979.5,233.1 980,233.8 980.5,234.3 981,234.3 981.5,234.3 982,234.4 982.5,234.4 983,234.4 983.5,234.4 984,234.5 984.5,234.5 985,234.5 985.5,234.5 986,234 986.5,233.4 987,232.7 987.5,232.1 988,231.5 988.5,230.9 989,230.3 989.5,229.7 990,229.2 990.5,228.7 991,228.2 991.5,227.8 992,227.4 992.5,227.1 993,226.8 993.5,226.5 994,226.3 994.5,226.1 995,226 995.5,226 996,225.9 996.5,226 997,226.1 997.5,226.2 998,226.4 998.5,226.6 999,226.9 999.5,227.2 1000,227.6 1000.5,228 1001,228.4 1001.5,228.9 1002,229.4 1002.5,230 1003,230.6 1003.5,231.2 1004,231.8 1004.5,232.5 1005,233.1 1005.5,233.8 1006,234.5 1006.5,235.2 1007,235.4 1007.5,235.4 1008,235.4 1008.5,235.4 1009,235.5 1009.5,235.5 1010,235.5 1010.5,235.5 1011,235.5 1011.5,235.6 1012,235.4 1012.5,234.8 1013,234.1 1013.5,233.5 1014,232.9 1014.5,232.2 1015,231.7 1015.5,231.1 1016,230.5 1016.5,230 1017,229.5 1017.5,229.1 1018,228.7 1018.5,228.3 1019,228 1019.5,227.7 1020,227.5 1020.5,227.3 1021,227.1 1021.5,227 1022,227 1022.5,227 1023,227.1 1023.5,227.2 1024,227.3 1024.5,227.5 1025,227.8 1025.5,228.1 1026,228.4 1026.5,228.8 1027,229.3 1027.5,229.7 1028,230.2 1028.5,230.8 1029,231.3 1029.5,231.9 1030,232.6 1030.5,233.2 1031,233.9 1031.5,234.5 1032,235.2 1032.5,235.9 1033,236.4 1033.5,236.5 1034,236.5 1034.5,236.5 1035,236.5 1035.5,236.5 1036,236.6 1036.5,236.6 1037,236.6 1037.5,236.6 1038,236.6 1038.5,236.2 1039,235.5 1039.5,234.9 1040,234.2 1040.5,233.6 1041,233 1041.5,232.4 1042,231.9 1042.5,231.4 1043,230.9 1043.5,230.4 1044,230 1044.5,229.6 1045,229.2 1045.5,228.9 1046,228.7 1046.5,228.4 1047,228.3 1047.5,228.2 1048,228.1 1048.5,228.1 1049,228.1 1049.5,228.2 1050,228.3 1050.5,228.5 1051,228.7 1051.5,229 1052,229.3 1052.5,229.7 1053,230.1 1053.5,230.5 1054,231 1054.5,231.5 1055,232.1 1055.5,232.7 1056,233.3 1056.5,233.9 1057,234.6 1057.5,235.2 1058,235.9 1058.5,236.6 1059,237.3 1059.5,237.5 1060,237.5 1060.5,237.5 1061,237.6 1061.5,237.6 1062,237.6 1062.5,237.6 1063,237.6 1063.5,237.7 1064,237.7 1064.5,237.6 1065,236.9 1065.5,236.3 1066,235.6 1066.5,235 1067,234.4 1067.5,233.8 1068,233.2 1068.5,232.7 1069,232.2 1069.5,231.7 1070,231.2 1070.5,230.8 1071,230.5 1071.5,230.1 1072,229.8 1072.5,229.6 1073,229.4 1073.5,229.3 1074,229.2 1074.5,229.1 1075,229.1 1075.5,229.2 1076,229.3 1076.5,229.5 1077,229.7 1077.5,229.9 1078,230.2 1078.5,230.5 1079,230.9 1079.5,231.4 1080,231.8 1080.5,232.3 1081,232.9 1081.5,233.4 1082,234 1082.5,234.7 1083,235.3 1083.5,236 1084,236.6 1084.5,237.3 1085,238 1085.5,238.6 1086,238.6 1086.5,238.6 1087,238.6 1087.5,238.6 1088,238.7 1088.5,238.7 1089,238.7 1089.5,238.7 1090,238.7 1090.5,238.8 1091,238.3 1091.5,237.7 1092,237 1092.5,236.4 1093,235.8 1093.5,235.2 1094,234.6 1094.5,234 1095,233.5 1095.5,233 1096,232.5 1096.5,232.1 1097,231.7 1097.5,231.4 1098,231.1 1098.5,230.8 1099,230.6 1099.5,230.4 1100,230.3 1100.5,230.2 1101,230.2 1101.5,230.2 1102,230.3 1102.5,230.4 1103,230.6 1103.5,230.8 1104,231.1 1104.5,231.4 1105,231.8 1105.5,232.2 1106,232.6 1106.5,233.1 1107,233.6 1107.5,234.2 1108,234.8 1108.5,235.4 1109,236 1109.5,236.7 1110,237.3 1110.5,238 1111,238.7 1111.5,239.4 1112,239.6 1112.5,239.7 1113,239.7 1113.5,239.7 1114,239.7 1114.5,239.7 1115,239.8 1115.5,239.8 1116,239.8 1116.5,239.8 1117,239.7 1117.5,239.1 1118,238.4 1118.5,237.8 1119,237.2 1119.5,236.5 1120,236 1120.5,235.4 1121,234.8 1121.5,234.3 1122,233.8 1122.5,233.4 1123,233 1123.5,232.6 1124,232.3 1124.5,232 1125,231.7 1125.5,231.5 1126,231.4 1126.5,231.3 1127,231.3 1127.5,231.3 1128,231.3 1128.5,231.4 1129,231.6 1129.5,231.8 1130,232 1130.5,232.3 1131,232.7 1131.5,233 1132,233.5 1132.5,233.9 1133,234.4 1133.5,235 1134,235.5 1134.5,236.1 1135,236.8 1135.5,237.4 1136,238 1136.5,238.7 1137,239.4 1137.5,240.1 1138,240.7 1138.5,240.7 1139,240.7 1139.5,240.7 1140,240.8 1140.5,240.8 1141,240.8 1141.5,240.8 1142,240.8 1142.5,240.9 1143,240.9 1143.5,240.5 1144,239.8 1144.5,239.2 1145,238.5 1145.5,237.9 1146,237.3 1146.5,236.7 1147,236.2 1147.5,235.6 1148,235.1 1148.5,234.7 1149,234.2 1149.5,233.9 1150,233.5 1150.5,233.2 1151,232.9 1151.5,232.7 1152,232.5 1152.5,232.4 1153,232.3 1153.5,232.3 1154,232.3 1154.5,232.4 1155,232.5 1155.5,232.7 1156,232.9 1156.5,233.2 1157,233.5 1157.5,233.9 1158,234.3 1158.5,234.8 1159,235.2 1159.5,235.8 1160,236.3 1160.5,236.9 1161,237.5 1161.5,238.1 1162,238.8 1162.5,239.4 1163,240.1 1163.5,240.8 1164,241.5 1164.5,241.8 1165,241.8 1165.5,241.8 1166,241.8 1166.5,241.8 1167,241.9 1167.5,241.9 1168,241.9 1168.5,241.9 1169,241.9 1169.5,241.9 1170,241.2 1170.5,240.6 1171,239.9 1171.5,239.3 1172,238.7 1172.5,238.1 1173,237.5 1173.5,237 1174,236.5 1174.5,236 1175,235.5 1175.5,235.1 1176,234.7 1176.5,234.4 1177,234.1 1177.5,233.9 1178,233.7 1178.5,233.5 1179,233.4 1179.5,233.4 1180,233.4 1180.5,233.4 1181,233.5 1181.5,233.7 1182,233.9 1182.5,234.1 1183,234.4 1183.5,234.8 1184,235.2 1184.5,235.6 1185,236 1185.5,236.5 1186,237.1 1186.5,237.6 1187,238.2 1187.5,238.9 1188,239.5 1188.5,240.1 1189,240.8 1189.5,241.5 1190,242.2 1190.5,242.8 1191,242.8 1191.5,242.9 1192,242.9 1192.5,242.9 1193,242.9 1193.5,242.9 1194,243 1194.5,243 1195,243 1195.5,243 1196,242.6 1196.5,242 1197,241.3 1197.5,240.7 1198,240.1 1198.5,239.5 1199,238.9 1199.5,238.3 1200,237.8 1200.5,237.3 1201,236.8 1201.5,236.4 1202,236 1202.5,235.6 1203,235.3 1203.5,235.1 1204,234.8 1204.5,234.7 1205,234.5 1205.5,234.5 1206,234.4 1206.5,234.5 1207,234.5 1207.5,234.7 1208,234.8 1208.5,235.1 1209,235.3 1209.5,235.7 1210,236 1210.5,236.4 1211,236.9 1211.5,237.3 1212,237.9 1212.5,238.4 1213,239 1213.5,239.6 1214,240.2 1214.5,240.9 1215,241.5 1215.5,242.2 1216,242.9 1216.5,243.6 1217,243.9 1217.5,243.9 1218,243.9 1218.5,243.9 1219,244 1219.5,244 1220,244 1220.5,244 1221,244 1221.5,244.1 1222,244 1222.5,243.4 1223,242.7 1223.5,242.1 1224,241.5 1224.5,240.8 1225,240.2 1225.5,239.7 1226,239.1 1226.5,238.6 1227,238.1 1227.5,237.7 1228,237.3 1228.5,236.9 1229,236.5 1229.5,236.3 1230,236 1230.5,235.8 1231,235.7 1231.5,235.6 1232,235.5 1232.5,235.5 1233,235.6 1233.5,235.7 1234,235.8 1234.5,236 1235,236.3 1235.5,236.5 1236,236.9 1236.5,237.3 1237,237.7 1237.5,238.2 1238,238.6 1238.5,239.2 1239,239.7 1239.5,240.3 1240,241 1240.5,241.6 1241,242.2 1241.5,242.9 1242,243.6 1242.5,244.3 1243,244.9 1243.5,245 1244,245 1244.5,245 1245,245 1245.5,245 1246,245.1 1246.5,245.1 1247,245.1 1247.5,245.1 1248,245.1 1248.5,244.8 1249,244.1 1249.5,243.5 1250,242.8 1250.5,242.2 1251,241.6 1251.5,241 1252,240.5 1252.5,239.9 1253,239.4 1253.5,239 1254,238.5 1254.5,238.1 1255,237.8 1255.5,237.5 1256,237.2 1256.5,237 1257,236.8 1257.5,236.7 1258,236.6 1258.5,236.6 1259,236.6 1259.5,236.7 1260,236.8 1260.5,237 1261,237.2 1261.5,237.5 1262,237.8 1262.5,238.1 1263,238.5 1263.5,239 1264,239.4 1264.5,240 1265,240.5 1265.5,241.1 1266,241.7 1266.5,242.3 1267,243 1267.5,243.6 1268,244.3 1268.5,245 1269,245.7 1269.5,246 1270,246 1270.5,246 1271,246.1 1271.5,246.1 1272,246.1 1272.5,246.1 1273,246.1 1273.5,246.2 1274,246.2 1274.5,246.2 1275,245.5 1275.5,244.9 1276,244.2 1276.5,243.6 1277,243 1277.5,242.4 1278,241.8 1278.5,241.3 1279,240.8 1279.5,240.3 1280,239.8 1280.5,239.4 1281,239 1281.5,238.7 1282,238.4 1282.5,238.1 1283,237.9 1283.5,237.8 1284,237.7 1284.5,237.6 1285,237.6 1285.5,237.7 1286,237.8 1286.5,237.9 1287,238.1 1287.5,238.4 1288,238.7 1288.5,239 1289,239.4 1289.5,239.8 1290,240.3 1290.5,240.8 1291,241.3 1291.5,241.8 1292,242.4 1292.5,243.1 1293,243.7 1293.5,244.3 1294,245 1294.5,245.7 1295,246.4 1295.5,247.1 1296,247.1 1296.5,247.1 1297,247.1 1297.5,247.1 1298,247.2 1298.5,247.2 1299,247.2 1299.5,247.2 1300,247.2 1300.5,247.3 1301,246.9 1301.5,246.3 1302,245.6 1302.5,245 1303,244.4 1303.5,243.8 1304,243.2 1304.5,242.6 1305,242.1 1305.5,241.6 1306,241.1 1306.5,240.7 1307,240.3 1307.5,239.9 1308,239.6 1308.5,239.3 1309,239.1 1309.5,238.9 1310,238.8 1310.5,238.7 1311,238.7 1311.5,238.7 1312,238.8 1312.5,238.9 1313,239.1 1313.5,239.3 1314,239.6 1314.5,239.9 1315,240.2 1315.5,240.6 1316,241.1 1316.5,241.6 1317,242.1 1317.5,242.6 1318,243.2 1318.5,243.8 1319,244.4 1319.5,245.1 1320,245.7 1320.5,246.4 1321,247.1 1321.5,247.8 1322,248.1 1322.5,248.2 1323,248.2" stroke="#1f1fff" stroke-width="2.6"/>
<polyline points="781,222 784,214 787,212 790,222 793.7,230.9 802,233 811.3,219.5 822.7,239.2 831,238.2 839.3,225.7 847.6,245.4 858,244.4 866.3,233 876.6,252.7 884.9,250.6 893.2,239.2 903.6,259.9 911.9,257.9 921.2,247.5 930.6,266.2 938.9,263 947.2,254.7 955.5,271.3 965.8,270.3 974.1,262 984.5,277.6 992.8,276.5 1000.9,269.3 1008.7,284 1020,285.5 1027.2,275.8 1038,292 1046,294.7 1054,284 1063.3,297.3 1071.3,302.7 1080.7,292 1090,305.3 1098,310.7 1108.7,300 1118,312 1126,317.3 1135.3,308 1144.7,320 1152.7,325.3 1163.3,314.7 1174,330.7 1179.3,332 1190,321.3 1200.7,337.3 1206,340 1216.7,329.3 1227.3,345.3 1232.7,348 1244.7,336 1255.3,353.3 1262,354.7 1271.3,345.3 1283.3,362.7 1288.7,364 1298,350.7 1310,370.7 1315.3,372 1322,360" stroke="#1f1fff" stroke-width="5.8" stroke-linejoin="miter"/>
<polyline points="781,224 786,221 797.8,207.2 806,208.2 813.4,214.5 826.9,196.8 835.2,198.9 841.4,204 852.8,186.5 862,187.5 868.3,192.7 879.7,176 888,177 894.9,183.3 905.7,167.8 916,165.7 922.7,173 933.7,158.5 941,156.4 949.7,162.6 959.6,150.2 969,145 976.2,152.2 986.6,140.8 995.9,133.6 1003.2,141.9 1013.5,131.5 1021.8,123.2 1030.1,130.4 1040,120 1048.8,112.8 1058.5,120.3 1068,107 1076.1,101.6 1086.5,110 1096,97 1105.2,92.3 1113.5,100.6 1123,86 1132.1,80.9 1141.5,91.3 1150,75 1158,69.5 1168.4,81.9 1177,64 1186,58.1 1196.4,71.6 1205,52 1214,46.7 1223.4,61.2 1232,41 1241,35.3 1250.4,49.8 1259,29 1268,22.8 1278.4,37.3 1286,17 1293.9,11.4 1305.3,25.9 1323,1.5" stroke="#d41c1c" stroke-width="6.2"/>
</g>
<text x="784.5" y="36.5" font-size="31.5" font-weight="bold" fill="#ff1a1a" textLength="96.5" lengthAdjust="spacingAndGlyphs">SAW +</text>
<path d="M785 68.4H855" stroke="#ff1a1a" stroke-width="2.6"/>
<text x="862" y="78.6" font-size="31" fill="#ff1a1a" textLength="125.5" lengthAdjust="spacingAndGlyphs">ε=70 ppm</text>
<path d="M785 110.6H855" stroke="#d41c1c" stroke-width="2.6"/>
<path d="M820 106.6L824 110.6L820 114.6L816 110.6Z" fill="#d41c1c"/>
<text x="862" y="119.5" font-size="31" fill="#ff1a1a" textLength="140" lengthAdjust="spacingAndGlyphs">ε=105 ppm</text>
<path d="M787.7 297H858.7" stroke="#000" stroke-width="2.6"/>
<rect x="819.6" y="294" width="6" height="6" fill="#000"/>
<text x="865.5" y="307.3" font-size="31" fill="#000" textLength="113.5" lengthAdjust="spacingAndGlyphs">No SAW</text>
<text x="786.5" y="345.6" font-size="31.5" font-weight="bold" fill="#1f1fff" textLength="81.5" lengthAdjust="spacingAndGlyphs">SAW-</text>
<path d="M787.7 373.7H858.7" stroke="#1f1fff" stroke-width="2.6"/>
<text x="865.5" y="383.1" font-size="31" fill="#1f1fff" textLength="124.2" lengthAdjust="spacingAndGlyphs">ε=70 ppm</text>
<path d="M787.7 416H858.7" stroke="#1f1fff" stroke-width="2.6"/>
<path d="M822.6 411.5L827 418.5H818.2Z" fill="#1f1fff"/>
<text x="865.5" y="425.7" font-size="31" fill="#1f1fff" textLength="140.7" lengthAdjust="spacingAndGlyphs">ε=105 ppm</text>
<path d="M772 18.9H780.5M1314.5 18.9H1323M772 119.9H780.5M1314.5 119.9H1323M772 220.9H780.5M1314.5 220.9H1323M772 321.9H780.5M1314.5 321.9H1323M772 422.9H780.5M1314.5 422.9H1323M776 69.4H780.5M1318.5 69.4H1323M776 170.4H780.5M1318.5 170.4H1323M776 271.4H780.5M1318.5 271.4H1323M776 372.4H780.5M1318.5 372.4H1323M780.2 440.5V447.5M780.2 2.5V10.5M814.1 440.5V443.5M814.1 2.5V6.5M848 440.5V447.5M848 2.5V10.5M882 440.5V443.5M882 2.5V6.5M915.9 440.5V447.5M915.9 2.5V10.5M949.8 440.5V443.5M949.8 2.5V6.5M983.7 440.5V447.5M983.7 2.5V10.5M1017.6 440.5V443.5M1017.6 2.5V6.5M1051.6 440.5V447.5M1051.6 2.5V10.5M1085.5 440.5V443.5M1085.5 2.5V6.5M1119.4 440.5V447.5M1119.4 2.5V10.5M1153.3 440.5V443.5M1153.3 2.5V6.5M1187.2 440.5V447.5M1187.2 2.5V10.5M1221.2 440.5V443.5M1221.2 2.5V6.5M1255.1 440.5V447.5M1255.1 2.5V10.5M1289 440.5V443.5M1289 2.5V6.5M1322.9 440.5V447.5M1322.9 2.5V10.5" stroke="#000" stroke-width="1.8" fill="none"/>
<text x="765" y="28.9" font-size="35.5" text-anchor="end">3.0</text>
<text x="765" y="129.9" font-size="35.5" text-anchor="end">1.5</text>
<text x="765" y="230.9" font-size="35.5" text-anchor="end">0.0</text>
<text x="765" y="331.9" font-size="35.5" text-anchor="end">-1.5</text>
<text x="765" y="432.9" font-size="35.5" text-anchor="end">-3.0</text>
<text x="780.2" y="479.7" font-size="32" text-anchor="middle">0</text>
<text x="848" y="479.7" font-size="32" text-anchor="middle">2</text>
<text x="915.9" y="479.7" font-size="32" text-anchor="middle">4</text>
<text x="983.7" y="479.7" font-size="32" text-anchor="middle">6</text>
<text x="1051.6" y="479.7" font-size="32" text-anchor="middle">8</text>
<text x="1119.4" y="479.7" font-size="32" text-anchor="middle">10</text>
<text x="1187.2" y="479.7" font-size="32" text-anchor="middle">12</text>
<text x="1255.1" y="479.7" font-size="32" text-anchor="middle">14</text>
<text x="1322.9" y="479.7" font-size="32" text-anchor="middle">16</text>
<text x="977.2" y="524.4" font-size="37.5" textLength="147" lengthAdjust="spacingAndGlyphs">Time (ns)</text>
<text transform="translate(692.8,220.8) rotate(-90)" font-size="38.2" text-anchor="middle">DW position, X<tspan font-size="26.5" dy="10">DW</tspan><tspan dy="-10"> (μm)</tspan></text>
<text x="1282" y="87" font-size="50">b</text>
<rect x="780.5" y="2.5" width="542.5" height="438" fill="none" stroke="#000" stroke-width="1.8"/>
<defs><clipPath id="cd"><rect x="781.5" y="556.5" width="540.5" height="434.7"/></clipPath></defs>
<path d="M781 774H1323" stroke="#000" stroke-width="2.2"/>
<g clip-path="url(#cd)">
<polyline points="780.2,774.1 787,774.1 793.8,774.1 800.6,774.1 807.3,774.1 814.1,774.1 820.9,774.1 827.7,774.1 834.5,774.1 841.3,774.1 848,774.1 854.8,774.1 861.6,774.1 868.4,774.4 875.2,774.6 882,774.9 888.7,775.1 895.5,775.7 902.3,776.2 909.1,776.7 915.9,777.2 922.7,778.3 929.4,779.3 936.2,780.9 943,782.4 949.8,784.2 956.6,786 963.4,788.6 970.1,791.2 976.9,794.4 983.7,798 990.5,802.7 997.3,807.9 1004.1,814.1 1010.8,821.4 1017.6,830.2 1024.4,839.5 1031.2,848.4 1038,857.7 1044.8,867 1051.5,876.4 1058.3,885.2 1065.1,894 1071.9,903.4 1078.7,912.7 1085.5,921.6 1092.3,929.4 1099,936.1 1105.8,942.9 1112.6,949.6 1119.4,956.3 1126.2,961 1133,965.7 1139.7,970.9 1146.5,976.1 1153.3,981.8 1160.1,987 1166.9,992.2" fill="none" stroke="#3b2bff" stroke-width="1.5"/>
<path d="M774 767.9h12.4v12.4h-12.4zM780.8 767.9h12.4v12.4h-12.4zM787.6 767.9h12.4v12.4h-12.4zM794.4 767.9h12.4v12.4h-12.4zM801.1 767.9h12.4v12.4h-12.4zM807.9 767.9h12.4v12.4h-12.4zM814.7 767.9h12.4v12.4h-12.4zM821.5 767.9h12.4v12.4h-12.4zM828.3 767.9h12.4v12.4h-12.4zM835.1 767.9h12.4v12.4h-12.4zM841.8 767.9h12.4v12.4h-12.4zM848.6 767.9h12.4v12.4h-12.4zM855.4 767.9h12.4v12.4h-12.4zM862.2 768.2h12.4v12.4h-12.4zM869 768.4h12.4v12.4h-12.4zM875.8 768.7h12.4v12.4h-12.4zM882.5 768.9h12.4v12.4h-12.4zM889.3 769.5h12.4v12.4h-12.4zM896.1 770h12.4v12.4h-12.4zM902.9 770.5h12.4v12.4h-12.4zM909.7 771h12.4v12.4h-12.4zM916.5 772.1h12.4v12.4h-12.4zM923.2 773.1h12.4v12.4h-12.4zM930 774.7h12.4v12.4h-12.4zM936.8 776.2h12.4v12.4h-12.4zM943.6 778h12.4v12.4h-12.4zM950.4 779.8h12.4v12.4h-12.4zM957.2 782.4h12.4v12.4h-12.4zM963.9 785h12.4v12.4h-12.4zM970.7 788.2h12.4v12.4h-12.4zM977.5 791.8h12.4v12.4h-12.4zM984.3 796.5h12.4v12.4h-12.4zM991.1 801.7h12.4v12.4h-12.4zM997.9 807.9h12.4v12.4h-12.4zM1004.6 815.2h12.4v12.4h-12.4zM1011.4 824h12.4v12.4h-12.4zM1018.2 833.3h12.4v12.4h-12.4zM1025 842.2h12.4v12.4h-12.4zM1031.8 851.5h12.4v12.4h-12.4zM1038.6 860.8h12.4v12.4h-12.4zM1045.3 870.2h12.4v12.4h-12.4zM1052.1 879h12.4v12.4h-12.4zM1058.9 887.8h12.4v12.4h-12.4zM1065.7 897.2h12.4v12.4h-12.4zM1072.5 906.5h12.4v12.4h-12.4zM1079.3 915.4h12.4v12.4h-12.4zM1086.1 923.2h12.4v12.4h-12.4zM1092.8 929.9h12.4v12.4h-12.4zM1099.6 936.7h12.4v12.4h-12.4zM1106.4 943.4h12.4v12.4h-12.4zM1113.2 950.1h12.4v12.4h-12.4zM1120 954.8h12.4v12.4h-12.4zM1126.8 959.5h12.4v12.4h-12.4zM1133.5 964.7h12.4v12.4h-12.4zM1140.3 969.9h12.4v12.4h-12.4zM1147.1 975.6h12.4v12.4h-12.4zM1153.9 980.8h12.4v12.4h-12.4zM1160.7 986h12.4v12.4h-12.4z" fill="#3b2bff"/>
<polyline points="780.2,775.1 787,775.1 793.8,775.1 800.6,775.1 807.3,775.1 814.1,775.1 820.9,775.1 827.7,775.1 834.5,775.1 841.3,769.9 848,775.1 854.8,775.2 861.6,775.3 868.4,775.4 875.2,775.5 882,775.6 888.7,775.7 895.5,775.9 902.3,776.2 909.1,777 915.9,777.7 922.7,778.5 929.4,779.3 936.2,779.6 943,779.8 949.8,780.1 956.6,780.3 963.4,780.6 970.1,780.9 976.9,781.1 983.7,781.4 990.5,781.5 997.3,781.6 1004.1,781.8 1010.8,781.9 1017.6,782.1 1024.4,782.2 1031.2,782.4 1038,782.6 1044.8,782.8 1051.5,782.9 1058.3,786.3 1065.1,786.4 1071.9,786.6 1078.7,786.7 1085.5,786.9 1092.3,787.1 1099,791.2 1105.8,788.6 1112.6,788.6 1119.4,788.6 1126.2,789.2 1133,795.2 1139.7,795.2 1146.5,795.2 1153.3,795.2 1160.1,795.2 1166.9,795.2 1173.7,795.2 1180.4,795.2 1187.2,795.2 1194,800.1 1200.8,800.1 1207.6,800.2 1214.4,800.3 1221.1,800.4 1227.9,800.5 1234.7,800.5 1241.5,800.6 1248.3,800.7 1255.1,800.8 1261.8,800.8 1268.6,800.9 1275.4,806.3 1282.2,806.3 1289,806.3 1295.8,806.3 1302.5,801.6 1309.3,803.2 1316.1,805.3 1322.9,809.4" fill="none" stroke="#50abf5" stroke-width="1.5" stroke-dasharray="3 3"/>
<path d="M776.1 771h8.2v8.2h-8.2zM782.9 771h8.2v8.2h-8.2zM789.7 771h8.2v8.2h-8.2zM796.5 771h8.2v8.2h-8.2zM803.2 771h8.2v8.2h-8.2zM810 771h8.2v8.2h-8.2zM816.8 771h8.2v8.2h-8.2zM823.6 771h8.2v8.2h-8.2zM830.4 771h8.2v8.2h-8.2zM837.2 765.8h8.2v8.2h-8.2zM843.9 771h8.2v8.2h-8.2zM850.7 771.1h8.2v8.2h-8.2zM857.5 771.2h8.2v8.2h-8.2zM864.3 771.3h8.2v8.2h-8.2zM871.1 771.4h8.2v8.2h-8.2zM877.9 771.5h8.2v8.2h-8.2zM884.6 771.6h8.2v8.2h-8.2zM891.4 771.8h8.2v8.2h-8.2zM898.2 772.1h8.2v8.2h-8.2zM905 772.9h8.2v8.2h-8.2zM911.8 773.6h8.2v8.2h-8.2zM918.6 774.4h8.2v8.2h-8.2zM925.3 775.2h8.2v8.2h-8.2zM932.1 775.5h8.2v8.2h-8.2zM938.9 775.7h8.2v8.2h-8.2zM945.7 776h8.2v8.2h-8.2zM952.5 776.2h8.2v8.2h-8.2zM959.3 776.5h8.2v8.2h-8.2zM966 776.8h8.2v8.2h-8.2zM972.8 777h8.2v8.2h-8.2zM979.6 777.3h8.2v8.2h-8.2zM986.4 777.4h8.2v8.2h-8.2zM993.2 777.5h8.2v8.2h-8.2zM1000 777.7h8.2v8.2h-8.2zM1006.7 777.8h8.2v8.2h-8.2zM1013.5 778h8.2v8.2h-8.2zM1020.3 778.1h8.2v8.2h-8.2zM1027.1 778.3h8.2v8.2h-8.2zM1033.9 778.5h8.2v8.2h-8.2zM1040.7 778.7h8.2v8.2h-8.2zM1047.5 778.8h8.2v8.2h-8.2zM1054.2 782.2h8.2v8.2h-8.2zM1061 782.3h8.2v8.2h-8.2zM1067.8 782.5h8.2v8.2h-8.2zM1074.6 782.6h8.2v8.2h-8.2zM1081.4 782.8h8.2v8.2h-8.2zM1088.2 783h8.2v8.2h-8.2zM1094.9 787.1h8.2v8.2h-8.2zM1101.7 784.5h8.2v8.2h-8.2zM1108.5 784.5h8.2v8.2h-8.2zM1115.3 784.5h8.2v8.2h-8.2zM1122.1 785.1h8.2v8.2h-8.2zM1128.9 791.1h8.2v8.2h-8.2zM1135.6 791.1h8.2v8.2h-8.2zM1142.4 791.1h8.2v8.2h-8.2zM1149.2 791.1h8.2v8.2h-8.2zM1156 791.1h8.2v8.2h-8.2zM1162.8 791.1h8.2v8.2h-8.2zM1169.6 791.1h8.2v8.2h-8.2zM1176.3 791.1h8.2v8.2h-8.2zM1183.1 791.1h8.2v8.2h-8.2zM1189.9 796h8.2v8.2h-8.2zM1196.7 796h8.2v8.2h-8.2zM1203.5 796.1h8.2v8.2h-8.2zM1210.3 796.2h8.2v8.2h-8.2zM1217 796.3h8.2v8.2h-8.2zM1223.8 796.4h8.2v8.2h-8.2zM1230.6 796.4h8.2v8.2h-8.2zM1237.4 796.5h8.2v8.2h-8.2zM1244.2 796.6h8.2v8.2h-8.2zM1251 796.7h8.2v8.2h-8.2zM1257.7 796.7h8.2v8.2h-8.2zM1264.5 796.8h8.2v8.2h-8.2zM1271.3 802.2h8.2v8.2h-8.2zM1278.1 802.2h8.2v8.2h-8.2zM1284.9 802.2h8.2v8.2h-8.2zM1291.7 802.2h8.2v8.2h-8.2zM1298.4 797.5h8.2v8.2h-8.2zM1305.2 799.1h8.2v8.2h-8.2zM1312 801.2h8.2v8.2h-8.2zM1318.8 805.3h8.2v8.2h-8.2z" fill="#fff" stroke="#50abf5" stroke-width="2.3"/>
<polyline points="780.2,772.2 787,772.1 793.8,772 800.6,771.9 807.3,771.8 814.1,771.6 820.9,771.5 827.7,771.3 834.5,771.1 841.3,770.8 848,770.5 854.8,770.1 861.6,769.8 868.4,769.4 875.2,768.7 882,768.1 888.7,767.4 895.5,766.8 902.3,766.1 909.1,765.5 915.9,764.6 922.7,763.6 929.4,762.6 936.2,761.4 943,759.8 949.8,758.1 956.6,755.4 963.4,751.3 970.1,741.1 976.9,720.4 983.7,700.5 990.5,681.5 997.3,664.3 1004.1,650.6 1010.8,641.2 1017.6,634.9 1024.4,629.2 1031.2,623.8 1038,618.3 1044.8,613.4 1051.5,608.5 1058.3,604 1065.1,599.6 1071.9,595.2 1078.7,590.8 1085.5,586.4 1092.3,582 1099,578.1 1105.8,574.2 1112.6,570.8 1119.4,567.4 1126.2,564.3 1133,561.2 1139.7,558.1 1146.5,555 1153.3,552.4 1160.1,549.8 1166.9,547.2 1173.7,544.6 1180.4,542.5" fill="none" stroke="#d01c14" stroke-width="1.5" stroke-dasharray="3 2.5"/>
<polyline points="1009.5,643.1 1010.8,641.2 1012.2,639.9 1013.6,638.7 1014.9,637.4 1016.3,636.2 1017.6,634.9 1019,633.8 1020.3,632.7 1021.7,631.5 1023.1,630.4 1024.4,629.2 1025.8,628.1 1027.1,627 1028.5,626 1029.8,624.9 1031.2,623.8 1032.6,622.7 1033.9,621.6 1035.3,620.5 1036.6,619.4 1038,618.3 1039.3,617.3 1040.7,616.4 1042.1,615.4 1043.4,614.4 1044.8,613.4 1046.1,612.4 1047.5,611.4 1048.8,610.4 1050.2,609.4 1051.5,608.5 1052.9,607.6 1054.3,606.7 1055.6,605.8 1057,604.9 1058.3,604 1059.7,603.2 1061,602.3 1062.4,601.4 1063.8,600.5 1065.1,599.6 1066.5,598.7 1067.8,597.9 1069.2,597 1070.5,596.1 1071.9,595.2 1073.3,594.3 1074.6,593.5 1076,592.6 1077.3,591.7 1078.7,590.8 1080,589.9 1081.4,589 1082.8,588.2 1084.1,587.3 1085.5,586.4 1086.8,585.5 1088.2,584.6 1089.5,583.7 1090.9,582.9 1092.3,582 1093.6,581.2 1095,580.4 1096.3,579.6 1097.7,578.9 1099,578.1 1100.4,577.3 1101.7,576.5 1103.1,575.7 1104.5,575 1105.8,574.2 1107.2,573.5 1108.5,572.8 1109.9,572.2 1111.2,571.5 1112.6,570.8 1114,570.1 1115.3,569.5 1116.7,568.8 1118,568.1 1119.4,567.4 1120.7,566.8 1122.1,566.2 1123.5,565.6 1124.8,564.9 1126.2,564.3 1127.5,563.7 1128.9,563.1 1130.2,562.5 1131.6,561.8 1133,561.2 1134.3,560.6 1135.7,560 1137,559.3 1138.4,558.7 1139.7,558.1 1141.1,557.5 1142.5,556.8 1143.8,556.2 1145.2,555.6 1146.5,555 1147.9,554.5 1149.2,553.9 1150.6,553.4 1151.9,552.9 1153.3,552.4 1154.7,551.9 1156,551.3 1157.4,550.8 1158.7,550.3 1160.1,549.8 1161.4,549.3 1162.8,548.7 1164.2,548.2 1165.5,547.7 1166.9,547.2 1168.2,546.7 1169.6,546.1 1170.9,545.6 1172.3,545.1 1173.7,544.6 1175,544.2 1176.4,543.8 1177.7,543.3 1179.1,542.9 1180.4,542.5 1181.8,542.1 1183.2,541.7 1184.5,541.3 1185.9,540.9 1187.2,540.4" fill="none" stroke="#d01c14" stroke-width="13.6" stroke-linecap="round" stroke-linejoin="round"/>
<g fill="#d01c14"><circle cx="780.2" cy="772.2" r="6.3"/><circle cx="787" cy="772.1" r="6.3"/><circle cx="793.8" cy="772" r="6.3"/><circle cx="800.6" cy="771.9" r="6.3"/><circle cx="807.3" cy="771.8" r="6.3"/><circle cx="814.1" cy="771.6" r="6.3"/><circle cx="820.9" cy="771.5" r="6.3"/><circle cx="827.7" cy="771.3" r="6.3"/><circle cx="834.5" cy="771.1" r="6.3"/><circle cx="841.3" cy="770.8" r="6.3"/><circle cx="848" cy="770.5" r="6.3"/><circle cx="854.8" cy="770.1" r="6.3"/><circle cx="861.6" cy="769.8" r="6.3"/><circle cx="868.4" cy="769.4" r="6.3"/><circle cx="875.2" cy="768.7" r="6.3"/><circle cx="882" cy="768.1" r="6.3"/><circle cx="888.7" cy="767.4" r="6.3"/><circle cx="895.5" cy="766.8" r="6.3"/><circle cx="902.3" cy="766.1" r="6.3"/><circle cx="909.1" cy="765.5" r="6.3"/><circle cx="915.9" cy="764.6" r="6.3"/><circle cx="922.7" cy="763.6" r="6.3"/><circle cx="929.4" cy="762.6" r="6.3"/><circle cx="936.2" cy="761.4" r="6.3"/><circle cx="943" cy="759.8" r="6.3"/><circle cx="949.8" cy="758.1" r="6.3"/><circle cx="956.6" cy="755.4" r="6.3"/><circle cx="963.4" cy="751.3" r="6.3"/><circle cx="970.1" cy="741.1" r="6.3"/><circle cx="976.9" cy="720.4" r="6.3"/><circle cx="983.7" cy="700.5" r="6.3"/><circle cx="990.5" cy="681.5" r="6.3"/><circle cx="997.3" cy="664.3" r="6.3"/><circle cx="1004.1" cy="650.6" r="6.3"/><circle cx="1010.8" cy="641.2" r="6.3"/><circle cx="1017.6" cy="634.9" r="6.3"/><circle cx="1024.4" cy="629.2" r="6.3"/><circle cx="1031.2" cy="623.8" r="6.3"/><circle cx="1038" cy="618.3" r="6.3"/><circle cx="1044.8" cy="613.4" r="6.3"/><circle cx="1051.5" cy="608.5" r="6.3"/><circle cx="1058.3" cy="604" r="6.3"/><circle cx="1065.1" cy="599.6" r="6.3"/><circle cx="1071.9" cy="595.2" r="6.3"/><circle cx="1078.7" cy="590.8" r="6.3"/><circle cx="1085.5" cy="586.4" r="6.3"/><circle cx="1092.3" cy="582" r="6.3"/><circle cx="1099" cy="578.1" r="6.3"/><circle cx="1105.8" cy="574.2" r="6.3"/><circle cx="1112.6" cy="570.8" r="6.3"/><circle cx="1119.4" cy="567.4" r="6.3"/><circle cx="1126.2" cy="564.3" r="6.3"/><circle cx="1133" cy="561.2" r="6.3"/><circle cx="1139.7" cy="558.1" r="6.3"/><circle cx="1146.5" cy="555" r="6.3"/><circle cx="1153.3" cy="552.4" r="6.3"/><circle cx="1160.1" cy="549.8" r="6.3"/><circle cx="1166.9" cy="547.2" r="6.3"/><circle cx="1173.7" cy="544.6" r="6.3"/><circle cx="1180.4" cy="542.5" r="6.3"/></g>
<polyline points="780.2,779.5 787,779.5 793.8,779.5 800.6,779.5 807.3,779.5 814.1,779.5 820.9,779.5 827.7,779.5 834.5,779.5 841.3,779.5 848,779.5 854.8,779.5 861.6,779.5 868.4,779.5 875.2,779.5 882,770.8 888.7,770.5 895.5,770.2 902.3,769.9 909.1,769.6 915.9,769.3 922.7,769 929.4,768.8 936.2,768.5 943,768.2 949.8,767.9 956.6,767.6 963.4,767.3 970.1,767 976.9,766.7 983.7,766.4 990.5,766.2 997.3,765.9 1004.1,765.6 1010.8,765.3 1017.6,765 1024.4,764.7 1031.2,764.4 1038,764.1 1044.8,763.8 1051.5,763.6 1058.3,763.3 1065.1,763 1071.9,762.7 1078.7,762.4 1085.5,762.1 1092.3,761.8 1099,761.5 1105.8,748.7 1112.6,748.7 1119.4,748.7 1126.2,748.7 1133,749.2 1139.7,749.7 1146.5,750.2 1153.3,750.2 1160.1,750.2 1166.9,749.7 1173.7,746.6 1180.4,745.5 1187.2,748.1 1194,679.6 1200.8,739.8 1207.6,722.7 1214.4,686.6 1221.1,682.9 1227.9,686.6 1234.7,682.9 1241.5,679.2 1248.3,677.3 1255.1,688.4 1261.8,677.3 1268.6,682.9 1275.4,678.1 1282.2,678.6 1289,661.9 1295.8,687.5 1302.5,680.1 1309.3,654.2 1316.1,687.5 1322.9,666.1" fill="none" stroke="#ff1a1a" stroke-width="1.8" stroke-dasharray="5 3"/>
<g fill="#fff" stroke="#ff1a1a" stroke-width="2.5"><circle cx="780.2" cy="779.5" r="4.8"/><circle cx="787" cy="779.5" r="4.8"/><circle cx="793.8" cy="779.5" r="4.8"/><circle cx="800.6" cy="779.5" r="4.8"/><circle cx="807.3" cy="779.5" r="4.8"/><circle cx="814.1" cy="779.5" r="4.8"/><circle cx="820.9" cy="779.5" r="4.8"/><circle cx="827.7" cy="779.5" r="4.8"/><circle cx="834.5" cy="779.5" r="4.8"/><circle cx="841.3" cy="779.5" r="4.8"/><circle cx="848" cy="779.5" r="4.8"/><circle cx="854.8" cy="779.5" r="4.8"/><circle cx="861.6" cy="779.5" r="4.8"/><circle cx="868.4" cy="779.5" r="4.8"/><circle cx="875.2" cy="779.5" r="4.8"/><circle cx="882" cy="770.8" r="4.8"/><circle cx="888.7" cy="770.5" r="4.8"/><circle cx="895.5" cy="770.2" r="4.8"/><circle cx="902.3" cy="769.9" r="4.8"/><circle cx="909.1" cy="769.6" r="4.8"/><circle cx="915.9" cy="769.3" r="4.8"/><circle cx="922.7" cy="769" r="4.8"/><circle cx="929.4" cy="768.8" r="4.8"/><circle cx="936.2" cy="768.5" r="4.8"/><circle cx="943" cy="768.2" r="4.8"/><circle cx="949.8" cy="767.9" r="4.8"/><circle cx="956.6" cy="767.6" r="4.8"/><circle cx="963.4" cy="767.3" r="4.8"/><circle cx="970.1" cy="767" r="4.8"/><circle cx="976.9" cy="766.7" r="4.8"/><circle cx="983.7" cy="766.4" r="4.8"/><circle cx="990.5" cy="766.2" r="4.8"/><circle cx="997.3" cy="765.9" r="4.8"/><circle cx="1004.1" cy="765.6" r="4.8"/><circle cx="1010.8" cy="765.3" r="4.8"/><circle cx="1017.6" cy="765" r="4.8"/><circle cx="1024.4" cy="764.7" r="4.8"/><circle cx="1031.2" cy="764.4" r="4.8"/><circle cx="1038" cy="764.1" r="4.8"/><circle cx="1044.8" cy="763.8" r="4.8"/><circle cx="1051.5" cy="763.6" r="4.8"/><circle cx="1058.3" cy="763.3" r="4.8"/><circle cx="1065.1" cy="763" r="4.8"/><circle cx="1071.9" cy="762.7" r="4.8"/><circle cx="1078.7" cy="762.4" r="4.8"/><circle cx="1085.5" cy="762.1" r="4.8"/><circle cx="1092.3" cy="761.8" r="4.8"/><circle cx="1099" cy="761.5" r="4.8"/><circle cx="1105.8" cy="748.7" r="4.8"/><circle cx="1112.6" cy="748.7" r="4.8"/><circle cx="1119.4" cy="748.7" r="4.8"/><circle cx="1126.2" cy="748.7" r="4.8"/><circle cx="1133" cy="749.2" r="4.8"/><circle cx="1139.7" cy="749.7" r="4.8"/><circle cx="1146.5" cy="750.2" r="4.8"/><circle cx="1153.3" cy="750.2" r="4.8"/><circle cx="1160.1" cy="750.2" r="4.8"/><circle cx="1166.9" cy="749.7" r="4.8"/><circle cx="1173.7" cy="746.6" r="4.8"/><circle cx="1180.4" cy="745.5" r="4.8"/><circle cx="1187.2" cy="748.1" r="4.8"/><circle cx="1194" cy="679.6" r="4.8"/><circle cx="1200.8" cy="739.8" r="4.8"/><circle cx="1207.6" cy="722.7" r="4.8"/><circle cx="1214.4" cy="686.6" r="4.8"/><circle cx="1221.1" cy="682.9" r="4.8"/><circle cx="1227.9" cy="686.6" r="4.8"/><circle cx="1234.7" cy="682.9" r="4.8"/><circle cx="1241.5" cy="679.2" r="4.8"/><circle cx="1248.3" cy="677.3" r="4.8"/><circle cx="1255.1" cy="688.4" r="4.8"/><circle cx="1261.8" cy="677.3" r="4.8"/><circle cx="1268.6" cy="682.9" r="4.8"/><circle cx="1275.4" cy="678.1" r="4.8"/><circle cx="1282.2" cy="678.6" r="4.8"/><circle cx="1289" cy="661.9" r="4.8"/><circle cx="1295.8" cy="687.5" r="4.8"/><circle cx="1302.5" cy="680.1" r="4.8"/><circle cx="1309.3" cy="654.2" r="4.8"/><circle cx="1316.1" cy="687.5" r="4.8"/><circle cx="1322.9" cy="666.1" r="4.8"/></g>
</g>
<text x="790.3" y="596.5" font-size="31" fill="#ff1a1a" textLength="100.5" lengthAdjust="spacing">SAW +</text>
<path d="M791.3 626.3H863.9" stroke="#d01c14" stroke-width="2.4"/>
<circle cx="828.4" cy="626.3" r="6.5" fill="#d01c14"/>
<text x="870.5" y="636.4" font-size="29" fill="#ff1a1a" textLength="91.5" lengthAdjust="spacingAndGlyphs">Smooth</text>
<path d="M791.3 666.3H863.9" stroke="#ff1a1a" stroke-width="2.4"/>
<circle cx="828.4" cy="666.3" r="5" fill="#fff" stroke="#ff1a1a" stroke-width="2.5"/>
<text x="871" y="675" font-size="29" fill="#ff1a1a" textLength="75.5" lengthAdjust="spacingAndGlyphs">Grains</text>
<text x="794.3" y="890.9" font-size="31" fill="#3b2bff" textLength="90.5" lengthAdjust="spacing">SAW -</text>
<path d="M795 921.5H866.4" stroke="#3b2bff" stroke-width="2.4"/>
<rect x="824.6" y="915.5" width="12" height="12" fill="#3b2bff"/>
<text x="873.5" y="931.7" font-size="29" fill="#3b2bff" textLength="90" lengthAdjust="spacingAndGlyphs">Smooth</text>
<path d="M795 960.8H866.4" stroke="#50abf5" stroke-width="2.4"/>
<rect x="826.1" y="956.3" width="9" height="9" fill="#fff" stroke="#50abf5" stroke-width="2.5"/>
<text x="874" y="970" font-size="29" fill="#3b2bff" textLength="75.5" lengthAdjust="spacingAndGlyphs">Grains</text>
<path d="M772 566.4H780.5M1314.5 566.4H1323M772 670.2H780.5M1314.5 670.2H1323M772 774.1H780.5M1314.5 774.1H1323M772 878H780.5M1314.5 878H1323M772 981.8H780.5M1314.5 981.8H1323M776 618.3H780.5M1318.5 618.3H1323M776 722.2H780.5M1318.5 722.2H1323M776 826H780.5M1318.5 826H1323M776 929.9H780.5M1318.5 929.9H1323M780.2 992.2V1000.2M780.2 555.5V563.5M848 992.2V996.2M848 555.5V559.5M915.9 992.2V1000.2M915.9 555.5V563.5M983.7 992.2V996.2M983.7 555.5V559.5M1051.5 992.2V1000.2M1051.5 555.5V563.5M1119.4 992.2V996.2M1119.4 555.5V559.5M1187.2 992.2V1000.2M1187.2 555.5V563.5M1255.1 992.2V996.2M1255.1 555.5V559.5M1322.9 992.2V1000.2M1322.9 555.5V563.5" stroke="#000" stroke-width="1.8" fill="none"/>
<text x="765" y="576.3" font-size="35.5" text-anchor="end">200</text>
<text x="765" y="680.1" font-size="35.5" text-anchor="end">100</text>
<text x="765" y="784" font-size="35.5" text-anchor="end">0</text>
<text x="765" y="887.9" font-size="35.5" text-anchor="end">-100</text>
<text x="765" y="991.7" font-size="35.5" text-anchor="end">-200</text>
<text x="780.2" y="1032.8" font-size="35" text-anchor="middle">0</text>
<text x="915.9" y="1032.8" font-size="35" text-anchor="middle">50</text>
<text x="1051.5" y="1032.8" font-size="35" text-anchor="middle">100</text>
<text x="1187.2" y="1032.8" font-size="35" text-anchor="middle">150</text>
<text x="1322.9" y="1032.8" font-size="35" text-anchor="middle">200</text>
<text x="971.7" y="1081.3" font-size="37">ε</text>
<text x="988" y="1091.3" font-size="25" textLength="57" lengthAdjust="spacing">SAW</text>
<text x="1055.5" y="1082" font-size="38.5" textLength="92.5" lengthAdjust="spacingAndGlyphs">(ppm)</text>
<text transform="translate(687,774.5) rotate(-90)" font-size="37.8" text-anchor="middle">v<tspan font-size="25" dy="12">DW</tspan><tspan dy="-12"> (m/s)</tspan></text>
<text x="1270" y="606" font-size="50">d</text>
<rect x="780.5" y="555.5" width="542.5" height="436.7" fill="none" stroke="#000" stroke-width="1.8"/>
</svg></body></html>
